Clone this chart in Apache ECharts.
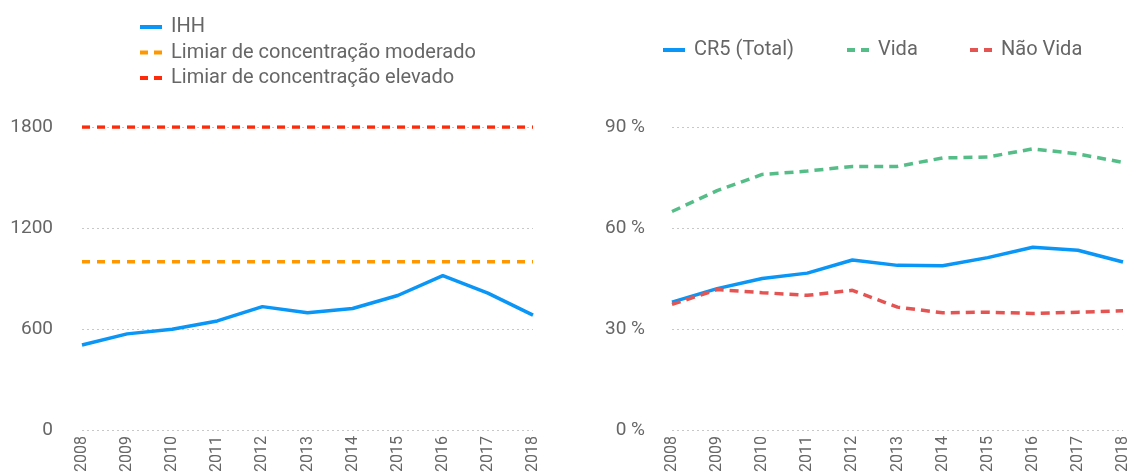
<!DOCTYPE html>
<html>
<head>
<meta charset="utf-8">
<script src="https://cdn.jsdelivr.net/npm/echarts@6/dist/echarts.min.js"></script>
<style>
  html, body { margin: 0; padding: 0; background: #fff; }
  #chart { width: 1136px; height: 475px; }
</style>
</head>
<body>
<div id="chart"></div>
<script>
// Years shown on both panels
const years = ['2008','2009','2010','2011','2012','2013','2014','2015','2016','2017','2018'];

// Left panel: Herfindahl-Hirschman index and regulatory thresholds
const ihh = [505, 571, 598, 648, 733, 697, 722, 799, 917, 813, 682];
const limiarModerado = [1000, 1000, 1000, 1000, 1000, 1000, 1000, 1000, 1000, 1000, 1000];
const limiarElevado = [1800, 1800, 1800, 1800, 1800, 1800, 1800, 1800, 1800, 1800, 1800];

// Right panel: CR5 market share (%)
const cr5Total = [38.0, 42.0, 45.0, 46.6, 50.5, 48.9, 48.8, 51.2, 54.3, 53.4, 49.9];
const cr5Vida = [64.9, 71.1, 75.9, 76.9, 78.3, 78.3, 80.8, 81.1, 83.5, 82.0, 79.5];
const cr5NaoVida = [37.3, 41.7, 40.8, 40.0, 41.5, 36.5, 34.8, 35.0, 34.6, 35.0, 35.4];

// Axis tick values
const ihhTicks = { min: 0, max: 1800, interval: 600 };
const pctTicks = { min: 0, max: 90, interval: 30 };

const FONT = 'Roboto';
const GREY = '#666666';

const C_BLUE = '#0a96f7';
const C_ORANGE = '#ff9800';
const C_RED = '#ff2a0a';
const C_GREEN = '#55bd88';
const C_SALMON = '#e35452';

// Legend glyphs: a short bar for solid lines, two bars for dashed lines
const ICON_SOLID = 'path://M0,0H22V4H0Z';
const ICON_DASHED = 'path://M0,0H8V4H0Z M14,0H22V4H14Z';

const chart = echarts.init(document.getElementById('chart'), null, { renderer: 'canvas' });

function xAxisFor(gridIndex) {
  return {
    type: 'category',
    gridIndex: gridIndex,
    data: years,
    boundaryGap: false,
    axisLine: { show: false },
    axisTick: { show: false },
    axisLabel: {
      rotate: 90,
      margin: 6,
      color: GREY,
      fontFamily: FONT,
      fontSize: 16,
      interval: 0
    }
  };
}

function yAxisFor(gridIndex, ticks, formatter, margin) {
  return {
    type: 'value',
    gridIndex: gridIndex,
    min: ticks.min,
    max: ticks.max,
    interval: ticks.interval,
    axisLine: { show: false },
    axisTick: { show: false },
    splitLine: { lineStyle: { color: '#c8c8c8', type: [2, 3], width: 1 } },
    axisLabel: {
      margin: margin,
      color: GREY,
      fontFamily: FONT,
      fontSize: 19,
      formatter: formatter
    }
  };
}

const legendText = { color: GREY, fontFamily: FONT, fontSize: 20, lineHeight: 20, padding: [0, 0, 0, 4] };

function singleLegend(left, name, icon) {
  return {
    orient: 'horizontal',
    left: left,
    top: 35,
    itemWidth: 22,
    itemHeight: 4,
    textStyle: legendText,
    data: [{ name: name, icon: icon }]
  };
}

const option = {
  backgroundColor: '#ffffff',
  animation: false,
  legend: [
    {
      orient: 'vertical',
      left: 135,
      top: 12,
      itemWidth: 22,
      itemHeight: 4,
      itemGap: 5.5,
      textStyle: legendText,
      data: [
        { name: 'IHH', icon: ICON_SOLID },
        { name: 'Limiar de concentração moderado', icon: ICON_DASHED },
        { name: 'Limiar de concentração elevado', icon: ICON_DASHED }
      ]
    },
    singleLegend(658, 'CR5 (Total)', ICON_SOLID),
    singleLegend(842, 'Vida', ICON_DASHED),
    singleLegend(965, 'Não Vida', ICON_DASHED)
  ],
  grid: [
    { left: 82, right: 603, top: 127, bottom: 45, containLabel: false },
    { left: 672, right: 13, top: 127, bottom: 45, containLabel: false }
  ],
  xAxis: [xAxisFor(0), xAxisFor(1)],
  yAxis: [
    yAxisFor(0, ihhTicks, v => String(v), 29),
    yAxisFor(1, pctTicks, v => v + ' %', 27)
  ],
  series: [
    {
      name: 'IHH', type: 'line', xAxisIndex: 0, yAxisIndex: 0,
      data: ihh, symbol: 'none',
      lineStyle: { color: C_BLUE, width: 3.5 }, itemStyle: { color: C_BLUE }
    },
    {
      name: 'Limiar de concentração moderado', type: 'line', xAxisIndex: 0, yAxisIndex: 0,
      data: limiarModerado, symbol: 'none',
      lineStyle: { color: C_ORANGE, width: 3.5, type: [8, 7] }, itemStyle: { color: C_ORANGE }
    },
    {
      name: 'Limiar de concentração elevado', type: 'line', xAxisIndex: 0, yAxisIndex: 0,
      data: limiarElevado, symbol: 'none',
      lineStyle: { color: C_RED, width: 3.5, type: [8, 7] }, itemStyle: { color: C_RED }
    },
    {
      name: 'CR5 (Total)', type: 'line', xAxisIndex: 1, yAxisIndex: 1,
      data: cr5Total, symbol: 'none',
      lineStyle: { color: C_BLUE, width: 3.5 }, itemStyle: { color: C_BLUE }
    },
    {
      name: 'Vida', type: 'line', xAxisIndex: 1, yAxisIndex: 1,
      data: cr5Vida, symbol: 'none',
      lineStyle: { color: C_GREEN, width: 3.5, type: [9, 6] }, itemStyle: { color: C_GREEN }
    },
    {
      name: 'Não Vida', type: 'line', xAxisIndex: 1, yAxisIndex: 1,
      data: cr5NaoVida, symbol: 'none',
      lineStyle: { color: C_SALMON, width: 3.5, type: [9, 6] }, itemStyle: { color: C_SALMON }
    }
  ]
};

chart.setOption(option);
</script>
</body>
</html>
